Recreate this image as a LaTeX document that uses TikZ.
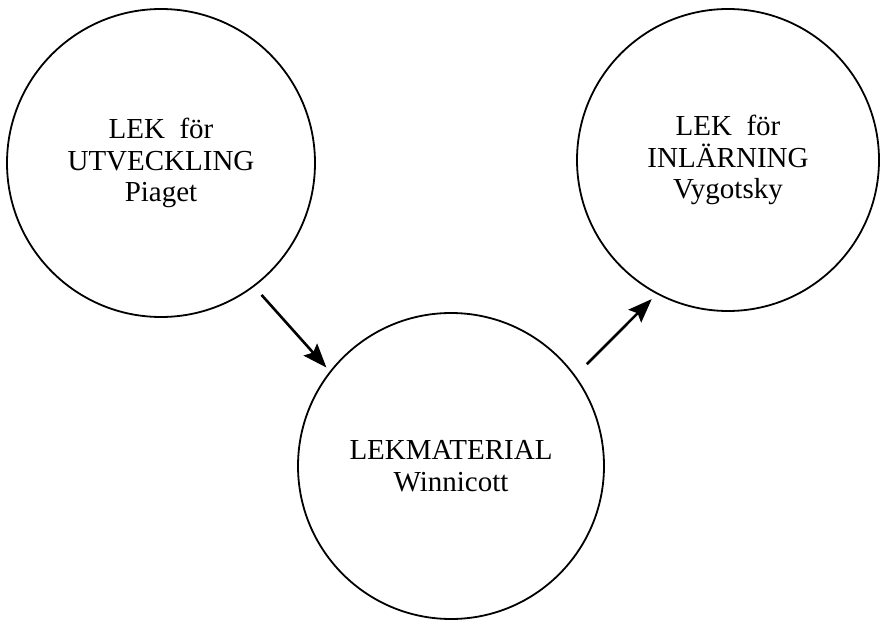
\documentclass[tikz,border=0pt]{standalone}
\usepackage{fontspec}
\setmainfont{Liberation Serif}
\usepackage{tikz}
\usetikzlibrary{arrows.meta}

\begin{document}
\begin{tikzpicture}[x=1pt, y=-1pt,
    theory/.style={circle, draw=black, line width=1.8pt, inner sep=0pt, align=center, font=\fontsize{29}{31.5}\selectfont},
    arrow/.style={-{Stealth[length=24pt, width=18pt, inset=4pt]}, line width=2.6pt}
]
\useasboundingbox (0,0) rectangle (880,620);

\node[theory, minimum size=308pt] (piaget)    at (161,163) {LEK\ \ för\\UTVECKLING\\Piaget};
\node[theory, minimum size=302pt] (vygotsky)  at (728,160) {LEK\ \ för\\INLÄRNING\\Vygotsky};
\node[theory, minimum size=306pt] (winnicott) at (451,466) {LEKMATERIAL\\Winnicott};

\draw[arrow, shorten <=11pt, shorten >=5pt] (piaget.-53) -- (winnicott.142);
\draw[arrow, shorten <=16pt, shorten >=7pt] (winnicott.36) -- (vygotsky.-118);
\end{tikzpicture}
\end{document}
